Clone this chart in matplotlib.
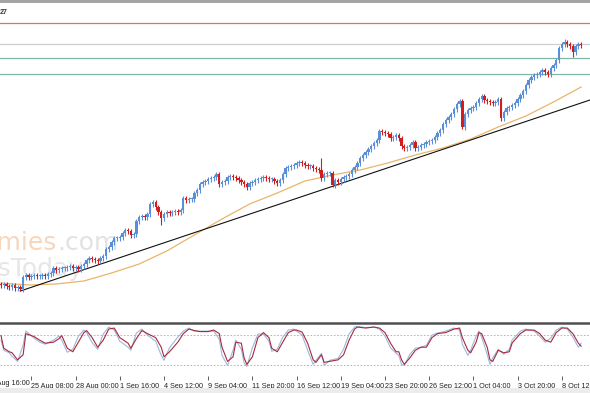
import numpy as np
import matplotlib
matplotlib.use('Agg')
import matplotlib.pyplot as plt
from matplotlib.patches import Rectangle

# data (price in chart units, one value per H4 bar)
# ---------------------------------------------------------------------

first_open = 46
closes = [45, 46, 44, 43, 45, 42, 43, 41, 53, 55,
          53, 54, 55, 54, 54, 55, 54, 56, 57, 62,
          60, 61, 62, 62, 63, 64, 62, 63, 61, 64,
          66, 70, 72, 71, 70, 69, 72, 74, 81, 83,
          88, 92, 92, 93, 97, 100, 99, 95, 96, 109,
          113, 114, 113, 116, 126, 128, 123, 118, 112, 116,
          118, 117, 118, 119, 118, 120, 132, 130, 131, 131,
          137, 140, 146, 148, 149, 151, 152, 153, 156, 146,
          148, 149, 153, 154, 153, 152, 150, 148, 146, 143,
          147, 148, 150, 151, 152, 153, 152, 151, 151, 149,
          147, 150, 156, 162, 163, 164, 165, 167, 168, 167,
          165, 164, 164, 162, 161, 160, 152, 156, 157, 157,
          145, 150, 148, 151, 153, 154, 156, 160, 163, 167,
          172, 175, 178, 181, 184, 187, 190, 199, 198, 197,
          196, 192, 193, 195, 192, 184, 182, 183, 185, 188,
          182, 183, 185, 186, 188, 189, 190, 193, 197, 200,
          206, 210, 213, 216, 221, 226, 229, 203, 216, 220,
          222, 223, 227, 231, 234, 230, 229, 228, 227, 228,
          231, 212, 218, 222, 223, 225, 227, 231, 235, 239,
          245, 250, 253, 255, 256, 258, 260, 258, 256, 262,
          265, 270, 282, 286, 288, 286, 284, 278, 284, 286, 285]

# bars with visibly long shadows
long_highs = {116: 172, 204: 291}
long_lows = {7: 39, 58: 105, 79: 143, 89: 140, 120: 143, 167: 201, 181: 209, 198: 253, 207: 273}

# moving average, read every 10 bars
ma_bars = [0, 10, 20, 30, 40, 50, 60, 70, 80, 90, 100, 110, 120, 130, 140, 150, 160, 170, 180, 190, 200, 210]
ma_vals = [47, 45, 46, 49, 57, 66, 79, 95, 111, 126, 137, 149, 155, 160, 167, 175, 182, 191, 203, 214, 228, 243]

# trend line anchors (bar, price)
trend_bars = [7, 213.2]
trend_vals = [39, 230]

# horizontal levels
levels = [307, 286, 272, 256]
level_colors = ['#d7717d', '#cfcfcf', '#82b8a8', '#82b8a8']

# stochastic oscillator
st_bars = [0, 1, 3, 4, 6, 8, 9, 12, 14, 16, 19, 21, 22, 24, 26, 28, 30, 31, 33, 35, 37, 39, 41, 43, 46, 47,
           49, 51, 53, 56, 58, 59, 61, 64, 66, 68, 70, 72, 75, 77, 79, 80, 82, 84, 85, 87, 88, 89, 91, 93,
           95, 97, 98, 100, 102, 104, 106, 107, 109, 111, 113, 114, 116, 117, 119, 122, 124, 126, 128, 129,
           132, 135, 137, 139, 141, 143, 144, 145, 146, 148, 150, 152, 154, 156, 158, 161, 164, 166, 167, 169,
           170, 172, 173, 174, 176, 177, 178, 180, 182, 184, 185, 188, 190, 193, 195, 197, 199, 201, 203, 205,
           207, 209, 210]
st_signal = [79, 54, 47, 45, 31, 41, 83, 77, 70, 64, 66, 73, 79, 54, 47, 66, 85, 89, 75, 56, 70, 92, 94, 75, 64, 54,
             73, 89, 83, 75, 56, 37, 47, 66, 83, 92, 89, 87, 87, 90, 83, 56, 28, 37, 66, 64, 35, 22, 37, 75,
             85, 75, 54, 47, 66, 85, 90, 90, 86, 64, 31, 26, 41, 26, 28, 31, 41, 70, 92, 96,
             94, 96, 94, 85, 64, 47, 47, 31, 22, 35, 50, 56, 56, 75, 83, 85, 92, 94, 75, 50,
             45, 66, 85, 83, 56, 31, 28, 50, 45, 47, 64, 83, 90, 90, 83, 70, 66, 85, 94, 94,
             83, 64, 58]
st_main = [70, 50, 45, 38, 28, 60, 88, 74, 66, 62, 70, 78, 70, 46, 52, 78, 90, 85, 65, 52, 82, 96, 90, 68, 56, 50,
           84, 92, 80, 68, 40, 30, 55, 76, 88, 94, 88, 88, 88, 88, 72, 40, 20, 50, 70, 52, 25, 18, 55, 82,
           82, 68, 48, 52, 76, 90, 92, 88, 80, 50, 22, 30, 44, 20, 30, 34, 52, 82, 96, 97,
           95, 96, 92, 78, 55, 44, 40, 22, 20, 42, 54, 56, 60, 80, 84, 88, 94, 90, 62, 40,
           50, 78, 88, 76, 42, 22, 35, 52, 42, 52, 70, 88, 92, 88, 78, 66, 74, 90, 96, 92,
           76, 56, 64]

# time axis labels (every 16 bars)
time_labels = ['25 Aug 08:00', '28 Aug 00:00', '1 Sep 16:00', '4 Sep 12:00', '9 Sep 04:00',
               '11 Sep 20:00', '16 Sep 12:00', '19 Sep 04:00', '23 Sep 20:00', '26 Sep 12:00',
               '1 Oct 04:00', '3 Oct 20:00', '8 Oct 12:00']
first_label = '22 Aug 16:00'

# build candles
# -------------

closes = np.array(closes, dtype=float)
opens = np.concatenate([[first_open], closes[:-1]])
bars = np.arange(len(closes))
highs = np.maximum(opens, closes) + 2.5
lows = np.minimum(opens, closes) - 2.5
for b, v in long_highs.items():
    highs[b] = v
for b, v in long_lows.items():
    lows[b] = v

up = closes >= opens
col_up = '#5a8fd8'
col_dn = '#d41c1c'
colors = np.where(up, col_up, col_dn)

# figure
# ------

W, H = 590, 393
fig = plt.figure(figsize=(W / 100, H / 100), dpi=100)
fig.patch.set_facecolor('white')

ax = fig.add_axes([0, 1 - 321 / H, 1, 317 / H])
osc = fig.add_axes([0, 1 - 376 / H, 1, 53 / H], sharex=ax)

for a in (ax, osc):
    for s in a.spines.values():
        s.set_visible(False)

# main chart
for lv, c in zip(levels, level_colors):
    ax.axhline(lv, color=c, lw=0.9, zorder=1)

ax.plot(ma_bars, ma_vals, color='#ebb469', lw=0.9, zorder=2)
ax.plot(trend_bars, trend_vals, color='#111111', lw=0.8, zorder=2)

ax.vlines(bars, lows, highs, colors=colors, lw=0.8, zorder=3)
body = np.maximum(np.abs(closes - opens), 1.2)
ax.bar(bars, body, bottom=np.minimum(opens, closes), width=0.85, color=colors, lw=0, zorder=4)

# watermark
ax.text(57 / W, 71 / 317, 'economies', transform=ax.transAxes, ha='right', va='baseline',
        fontsize=18, color='#f8d6bb', zorder=0)
ax.text(57 / W, 71 / 317, '.com', transform=ax.transAxes, ha='left', va='baseline',
        fontsize=18, color='#e2e2e2', zorder=0)
ax.text(83 / W, 45 / 317, 'NewsToday', transform=ax.transAxes, ha='right', va='baseline',
        fontsize=18, color='#e6e6e6', zorder=0)

ax.text(0, 1 - 5 / 317, '27', transform=ax.transAxes, ha='left', va='top',
        fontsize=5, color='#333333', fontweight='bold', family='Liberation Sans')

ax.set_xlim(-1 / 2.7625, 589 / 2.7625)
ax.set_ylim(330 - 321, 330 - 4)
ax.set_yticks([])
ax.tick_params(axis='x', which='both', bottom=False, labelbottom=False)

# stochastic window
osc.axhline(80, color='#aaaaaa', lw=0.6, ls=(0, (2, 2)))
osc.axhline(20, color='#aaaaaa', lw=0.6, ls=(0, (2, 2)))
osc.plot(st_bars, st_main, color='#9db8dc', lw=0.8)
osc.plot(st_bars, st_signal, color='#a8283a', lw=0.8)
osc.set_ylim(-1, 104)
osc.set_yticks([])
osc.spines['top'].set_visible(True)
osc.spines['top'].set_color('#505050')
osc.spines['top'].set_linewidth(1.8)

tick_bars = [11 + 16 * k for k in range(len(time_labels))]
osc.set_xticks(tick_bars)
osc.set_xticklabels(time_labels, ha='left', fontsize=5.2, family='Liberation Sans', color='#222222')
osc.tick_params(axis='x', length=3, width=0.6, color='#444444', pad=2)
osc.text(11 - 16, -0.08, first_label, transform=osc.get_xaxis_transform(), ha='left', va='top',
         fontsize=5.2, family='Liberation Sans', color='#222222', clip_on=False)

# window frame bands
fig.add_artist(Rectangle((0, 1 - 3 / H), 1, 3 / H, transform=fig.transFigure, color='#a4a4a4', lw=0))
fig.add_artist(Rectangle((0, 0), 1, 5 / H, transform=fig.transFigure, color='#ececec', lw=0))

fig.savefig('out.png', dpi=100)
